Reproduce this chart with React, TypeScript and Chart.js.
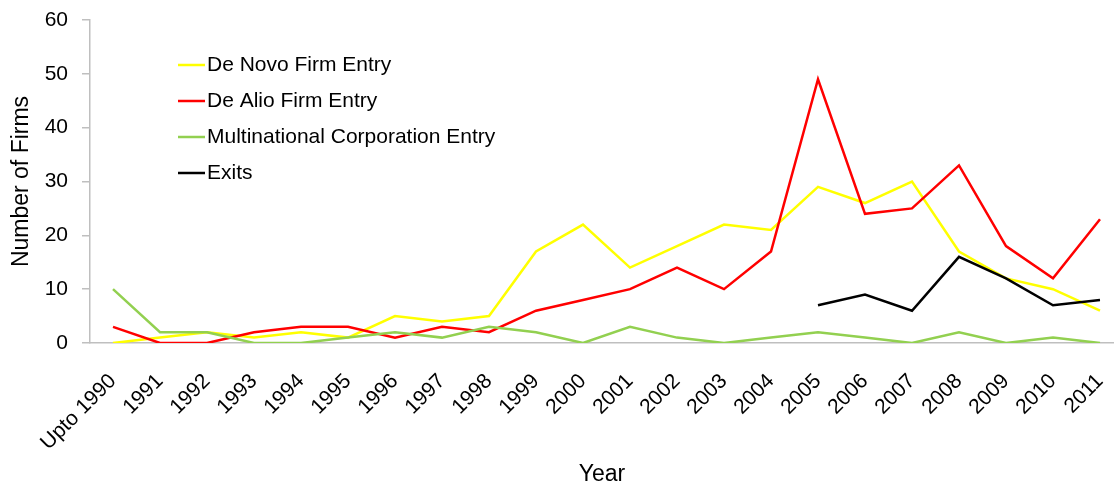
import React, { useEffect, useRef } from "react";
import { Chart, registerables } from "chart.js";

Chart.register(...registerables);

const categories = [
  "Upto 1990", "1991", "1992", "1993", "1994", "1995", "1996", "1997", "1998", "1999", "2000",
  "2001", "2002", "2003", "2004", "2005", "2006", "2007", "2008", "2009", "2010", "2011",
];
const deNovo = [0, 1, 2, 1, 2, 1, 5, 4, 5, 17, 22, 14, 18, 22, 21, 29, 26, 30, 17, 12, 10, 6];
const deAlio = [3, 0, 0, 2, 3, 3, 1, 3, 2, 6, 8, 10, 14, 10, 17, 49, 24, 25, 33, 18, 12, 23];
const multinational = [10, 2, 2, 0, 0, 1, 2, 1, 3, 2, 0, 3, 1, 0, 1, 2, 1, 0, 2, 0, 1, 0];
const exits = [null, null, null, null, null, null, null, null, null, null, null, null, null, null, null, 7, 9, 6, 16, 12, 7, 8];
const yTicks = [0, 10, 20, 30, 40, 50, 60];

const seriesNames = ["De Novo Firm Entry", "De Alio Firm Entry", "Multinational Corporation Entry", "Exits"];
const seriesColors = ["#FFFF00", "#FF0000", "#92D050", "#000000"];

const FONT = "'Liberation Sans', Arial, sans-serif";

const legendPlugin = {
  id: "insideLegend",
  afterDraw(chart: any) {
    const { ctx, chartArea } = chart;
    const x0 = chartArea.left + 88;
    const y0 = chartArea.top + 45;
    ctx.save();
    ctx.font = `21px ${FONT}`;
    ctx.textBaseline = "middle";
    ctx.textAlign = "left";
    chart.data.datasets.forEach((ds: any, i: number) => {
      const y = y0 + i * 36;
      ctx.strokeStyle = ds.borderColor;
      ctx.lineWidth = 2.5;
      ctx.beginPath();
      ctx.moveTo(x0, y);
      ctx.lineTo(x0 + 27, y);
      ctx.stroke();
      ctx.fillStyle = "#000";
      ctx.fillText(ds.label, x0 + 29, y);
    });
    ctx.restore();
  },
};

export default function App() {
  const ref = useRef<HTMLCanvasElement | null>(null);

  useEffect(() => {
    if (!ref.current) return;
    const series = [deNovo, deAlio, multinational, exits];
    const chart = new Chart(ref.current, {
      type: "line",
      data: {
        datasets: series.map((vals, si) => ({
          label: seriesNames[si],
          data: vals.map((v, i) => ({ x: i, y: v })),
          borderColor: seriesColors[si],
          backgroundColor: seriesColors[si],
          borderWidth: 2.5,
          pointRadius: 0,
          tension: 0,
          fill: false,
          spanGaps: false,
          order: 3 - si,
        })),
      },
      options: {
        responsive: false,
        animation: false,
        layout: { padding: { top: 20, left: 0, right: 0, bottom: 0 } },
        plugins: {
          legend: { display: false },
          tooltip: { enabled: false },
        },
        scales: {
          x: {
            type: "linear",
            min: -23 / 47,
            max: -23 / 47 + 1024 / 47,
            afterBuildTicks: (scale: any) => {
              scale.ticks = categories.map((_, i) => ({ value: i }));
            },
            afterFit: (scale: any) => {
              scale.height = 144;
              scale.paddingLeft = 0;
              scale.paddingRight = 0;
            },
            grid: { display: true, drawOnChartArea: false, drawTicks: false },
            border: { display: true, color: "#BFBFBF", width: 1.5 },
            ticks: {
              autoSkip: false,
              maxRotation: 45,
              minRotation: 45,
              padding: 26,
              color: "#000",
              font: { family: FONT, size: 21 },
              callback: (value: any) => categories[value as number] ?? "",
            },
            title: {
              display: true,
              text: "Year",
              color: "#000",
              font: { family: FONT, size: 23, lineHeight: 1 },
              padding: { top: 0, bottom: 0.5 },
            },
          },
          y: {
            min: 0,
            max: 60,
            afterBuildTicks: (scale: any) => {
              scale.ticks = yTicks.map((v) => ({ value: v }));
            },
            afterFit: (scale: any) => {
              scale.width = 90;
              scale.paddingTop = 0;
              scale.paddingBottom = 0;
            },
            grid: { display: true, drawOnChartArea: false, drawTicks: true, tickLength: 8, color: "#BFBFBF", lineWidth: 1.5 },
            border: { display: true, color: "#BFBFBF", width: 1.5 },
            ticks: {
              padding: 14,
              color: "#000",
              font: { family: FONT, size: 21 },
            },
            title: {
              display: true,
              text: "Number of Firms",
              color: "#000",
              font: { family: FONT, size: 23, lineHeight: 1 },
              padding: { top: 10.5, bottom: 0 },
            },
          },
        },
      },
      plugins: [legendPlugin],
    } as any);
    return () => chart.destroy();
  }, []);

  return (
    <div style={{ position: "absolute", left: 0, top: 0, width: 1114, height: 487, background: "#fff" }}>
      <canvas ref={ref} width={1114} height={487} style={{ display: "block" }} />
    </div>
  );
}
